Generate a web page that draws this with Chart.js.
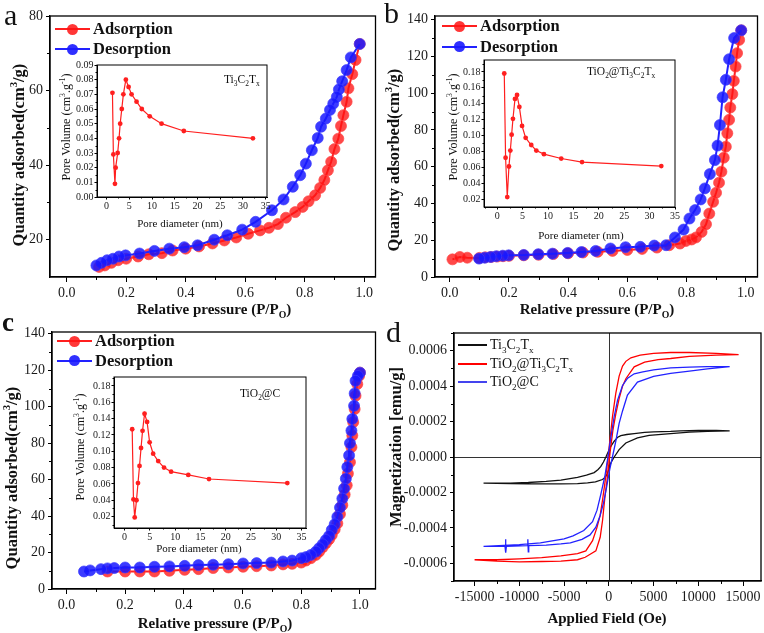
<!DOCTYPE html>
<html>
<head>
<meta charset="utf-8">
<script src="https://cdn.jsdelivr.net/npm/chart.js@4.4.1/dist/chart.umd.min.js"></script>
<style>
  body { margin: 0; background: #fff; }
  #fig { position: relative; width: 764px; height: 633px; overflow: hidden; font-family: "Liberation Serif", "Times New Roman", serif; color: #111; }
  canvas { position: absolute; }
  .t { position: absolute; white-space: nowrap; line-height: 1; }
  .c { transform: translate(-50%, -50%); }
  .r { transform: translate(-50%, -50%) rotate(-90deg); }
  .b { font-weight: bold; }
  sup, sub { font-size: 65%; line-height: 0; }
  .lgl { position: absolute; }
  .lgc { position: absolute; border-radius: 50%; }
</style>
</head>
<body>
<div id="fig">
  <canvas id="chA" width="382" height="319" style="left:0;top:0"></canvas>
  <canvas id="chB" width="382" height="319" style="left:382px;top:0"></canvas>
  <canvas id="chC" width="382" height="317" style="left:0;top:316px"></canvas>
  <canvas id="chD" width="382" height="317" style="left:382px;top:316px"></canvas>
  <canvas id="inA" width="220" height="171" style="left:55px;top:58px"></canvas>
  <canvas id="inB" width="243" height="189" style="left:440px;top:52px"></canvas>
  <canvas id="inC" width="244" height="185" style="left:70px;top:369px"></canvas>

  <div class="t" style="left:4px;top:0;font-size:30px">a</div>
  <div class="t" style="left:384px;top:-2px;font-size:30px">b</div>
  <div class="t b" style="left:2px;top:309px;font-size:27px">c</div>
  <div class="t" style="left:386px;top:317px;font-size:30px">d</div>

  <div class="t c b" style="left:214px;top:309px;font-size:15px">Relative pressure (P/P<sub>O</sub>)</div>
  <div class="t c b" style="left:597px;top:309px;font-size:15px">Relative pressure (P/P<sub>O</sub>)</div>
  <div class="t c b" style="left:215px;top:623px;font-size:15px">Relative pressure (P/P<sub>O</sub>)</div>
  <div class="t c b" style="left:607px;top:618px;font-size:15px">Applied Field (Oe)</div>
  <div class="t r b" style="left:19px;top:155px;font-size:16.5px">Quantity adsorbed(cm<sup>3</sup>/g)</div>
  <div class="t r b" style="left:394px;top:160px;font-size:16.5px">Quantity adsorbed(cm<sup>3</sup>/g)</div>
  <div class="t r b" style="left:12px;top:478px;font-size:16.5px">Quantity adsorbed(cm<sup>3</sup>/g)</div>
  <div class="t r b" style="left:396px;top:447px;font-size:16.5px">Magnetization [emu/g]</div>

  <div class="t c" style="left:180px;top:223px;font-size:11px">Pore diameter (nm)</div>
  <div class="t c" style="left:581px;top:235px;font-size:11px">Pore diameter (nm)</div>
  <div class="t c" style="left:199px;top:548px;font-size:11px">Pore diameter (nm)</div>
  <div class="t r" style="left:66px;top:127px;font-size:12px">Pore Volume (cm<sup>3</sup>.g<sup>-1</sup>)</div>
  <div class="t r" style="left:453px;top:127px;font-size:12px">Pore Volume (cm<sup>3</sup>.g<sup>-1</sup>)</div>
  <div class="t r" style="left:80px;top:447px;font-size:12px">Pore Volume (cm<sup>3</sup>.g<sup>-1</sup>)</div>

  <div class="t" style="left:224px;top:74px;font-size:11.5px">Ti<sub>3</sub>C<sub>2</sub>T<sub>x</sub></div>
  <div class="t" style="left:587px;top:66px;font-size:11.5px">TiO<sub>2</sub>@Ti<sub>3</sub>C<sub>2</sub>T<sub>x</sub></div>
  <div class="t" style="left:240px;top:388px;font-size:11.5px">TiO<sub>2</sub>@C</div>
</div>
<script>
// panel a, Ti3C2Tx isotherm
const pA_ads = [0.109, 0.128, 0.15, 0.173, 0.20, 0.24, 0.276, 0.32, 0.356, 0.40, 0.445, 0.49, 0.53, 0.57, 0.61, 0.65, 0.68, 0.71, 0.737, 0.768, 0.793, 0.813, 0.835, 0.852, 0.866, 0.878, 0.889, 0.90, 0.913, 0.922, 0.93, 0.941, 0.947, 0.96, 0.971, 0.985];
const qA_ads = [12.7, 13.1, 13.8, 14.5, 14.9, 15.5, 16.1, 16.4, 17.1, 17.6, 18.2, 19.0, 19.8, 20.6, 21.6, 22.5, 23.2, 24.2, 25.9, 27.4, 28.8, 30.3, 31.9, 33.9, 36.0, 38.6, 40.9, 44.3, 47.1, 50.5, 53.4, 57.0, 60.6, 64.4, 68.2, 72.5];
const pA_des = [0.985, 0.955, 0.941, 0.926, 0.915, 0.908, 0.896, 0.885, 0.871, 0.855, 0.844, 0.824, 0.804, 0.785, 0.76, 0.729, 0.69, 0.635, 0.59, 0.54, 0.496, 0.44, 0.395, 0.345, 0.295, 0.245, 0.198, 0.176, 0.156, 0.136, 0.117, 0.10];
const qA_des = [72.5, 68.9, 65.5, 62.5, 60.3, 58.3, 56.5, 54.8, 52.5, 50.3, 47.3, 44.0, 40.4, 37.3, 34.2, 30.8, 27.9, 24.8, 22.7, 21.2, 20.0, 18.5, 18.0, 17.6, 17.0, 16.3, 15.8, 15.5, 14.9, 14.5, 13.8, 13.1];

// panel b, TiO2@Ti3C2Tx isotherm
const pB_ads = [0.009, 0.034, 0.059, 0.10, 0.12, 0.14, 0.16, 0.18, 0.20, 0.25, 0.30, 0.35, 0.40, 0.45, 0.50, 0.55, 0.60, 0.65, 0.70, 0.742, 0.778, 0.798, 0.817, 0.832, 0.851, 0.866, 0.877, 0.89, 0.90, 0.91, 0.918, 0.926, 0.933, 0.938, 0.944, 0.948, 0.955, 0.96, 0.966, 0.971, 0.978, 0.985];
const qB_ads = [9.6, 10.9, 10.5, 10.4, 10.7, 10.9, 11.1, 11.3, 11.5, 11.8, 12.1, 12.5, 12.9, 13.3, 13.7, 14.2, 14.7, 15.3, 16.0, 17.3, 18.2, 19.6, 20.4, 21.5, 24.5, 28.7, 34.5, 40.9, 45.8, 51.3, 57.3, 64.9, 70.9, 78.2, 85.5, 92.2, 99.5, 106.7, 114.5, 121.8, 129.0, 134.2];
const pB_des = [0.985, 0.961, 0.944, 0.933, 0.922, 0.913, 0.905, 0.896, 0.879, 0.862, 0.848, 0.829, 0.81, 0.79, 0.761, 0.731, 0.691, 0.644, 0.594, 0.543, 0.493, 0.445, 0.398, 0.347, 0.299, 0.25, 0.199, 0.179, 0.157, 0.138, 0.118, 0.099];
const qB_des = [134.2, 130.0, 118.5, 107.3, 97.8, 82.7, 71.5, 63.6, 56.0, 48.2, 42.2, 36.4, 31.8, 25.8, 21.5, 17.3, 17.1, 16.4, 16.2, 15.5, 14.2, 13.6, 13.1, 12.7, 12.4, 12.0, 11.8, 11.6, 11.3, 10.9, 10.5, 10.0];

// panel c, TiO2@C isotherm
const pC_ads = [0.14, 0.20, 0.25, 0.30, 0.351, 0.403, 0.45, 0.50, 0.552, 0.602, 0.648, 0.698, 0.738, 0.769, 0.80, 0.816, 0.833, 0.85, 0.861, 0.873, 0.884, 0.895, 0.904, 0.914, 0.923, 0.932, 0.94, 0.948, 0.955, 0.959, 0.966, 0.971, 0.974, 0.977, 0.982, 0.985, 0.991, 0.997, 1.0];
const qC_ads = [9.6, 9.6, 9.6, 9.6, 10.0, 10.5, 10.9, 11.5, 11.8, 12.2, 12.5, 12.9, 13.5, 13.8, 14.5, 15.6, 16.9, 18.7, 20.5, 22.9, 25.1, 27.3, 29.6, 32.7, 36.0, 41.1, 46.0, 51.8, 56.9, 63.3, 69.6, 77.8, 84.2, 91.5, 98.7, 106.0, 112.4, 116.9, 118.7];
const pC_des = [1.0, 0.993, 0.985, 0.982, 0.98, 0.974, 0.971, 0.966, 0.963, 0.957, 0.952, 0.946, 0.94, 0.932, 0.923, 0.914, 0.904, 0.895, 0.884, 0.873, 0.861, 0.85, 0.833, 0.816, 0.80, 0.769, 0.738, 0.698, 0.648, 0.602, 0.552, 0.50, 0.45, 0.403, 0.351, 0.30, 0.25, 0.20, 0.163, 0.14, 0.118, 0.081, 0.06];
const qC_des = [118.7, 116.9, 114.2, 107.3, 100.5, 93.3, 86.9, 80.0, 73.3, 66.9, 60.5, 55.1, 49.6, 44.7, 39.6, 35.5, 32.4, 29.1, 26.9, 24.5, 22.4, 20.5, 18.7, 17.5, 16.9, 15.6, 15.1, 14.5, 14.2, 14.0, 13.6, 13.3, 13.1, 12.7, 12.4, 12.2, 11.8, 11.8, 11.5, 11.3, 10.9, 10.2, 9.6];

// pore size insets
const dA = [1.3, 1.5, 1.85, 2.0, 2.45, 2.75, 3.0, 3.35, 3.7, 4.25, 4.85, 5.5, 6.6, 7.75, 9.5, 12.1, 17.0, 32.2];
const vA = [0.071, 0.029, 0.009, 0.020, 0.030, 0.040, 0.050, 0.060, 0.070, 0.080, 0.075, 0.070, 0.065, 0.060, 0.055, 0.050, 0.045, 0.040];
const dB = [1.39, 1.65, 1.98, 2.31, 2.58, 2.84, 3.1, 3.5, 3.9, 4.36, 4.89, 5.6, 6.7, 7.7, 9.2, 12.6, 16.7, 32.3];
const vB = [0.178, 0.072, 0.0225, 0.061, 0.081, 0.101, 0.121, 0.146, 0.151, 0.136, 0.112, 0.097, 0.088, 0.081, 0.0765, 0.071, 0.0665, 0.0615];
const dC = [1.5, 1.75, 2.0, 2.35, 2.65, 2.95, 3.25, 3.55, 3.95, 4.45, 4.95, 5.65, 6.65, 7.8, 9.2, 12.6, 16.7, 32.2];
const vC = [0.127, 0.041, 0.019, 0.040, 0.061, 0.082, 0.104, 0.125, 0.146, 0.136, 0.111, 0.097, 0.088, 0.080, 0.075, 0.071, 0.066, 0.061];

// panel d, M-H loops: descending branch then ascending branch
const hK_desc = [13500, 12000, 10000, 8000, 6900, 5000, 4000, 2830, 2000, 1340, 1000, 600, 220, -40, -330, -600, -890, -1200, -1640, -2500, -3500, -5360, -7000, -9000, -11000, -14000];
const mK_desc = [1.48e-4, 1.50e-4, 1.50e-4, 1.48e-4, 1.45e-4, 1.42e-4, 1.39e-4, 1.32e-4, 1.27e-4, 1.21e-4, 1.12e-4, 0.89e-4, 0.60e-4, 0.32e-4, 0, -0.28e-4, -0.53e-4, -0.70e-4, -0.88e-4, -1.02e-4, -1.15e-4, -1.30e-4, -1.38e-4, -1.44e-4, -1.47e-4, -1.47e-4];
const hK_asc = [-14000, -11000, -9000, -7000, -5360, -3500, -2380, -1500, -710, -400, -150, 220, 600, 1150, 1900, 3200, 4500, 6900, 9000, 11000, 13500];
const mK_asc = [-1.47e-4, -1.50e-4, -1.51e-4, -1.52e-4, -1.52e-4, -1.50e-4, -1.46e-4, -1.40e-4, -1.27e-4, -1.15e-4, -0.92e-4, -0.34e-4, 0, 0.42e-4, 0.79e-4, 1.08e-4, 1.22e-4, 1.32e-4, 1.40e-4, 1.45e-4, 1.48e-4];

const hR_desc = [14500, 12000, 9000, 6900, 5000, 3500, 2460, 1900, 1530, 1150, 780, 410, 150, -150, -450, -710, -970, -1340, -1820, -2570, -3500, -5360, -7500, -10000, -12500, -15000];
const mR_desc = [5.78e-4, 5.85e-4, 5.90e-4, 5.90e-4, 5.85e-4, 5.75e-4, 5.60e-4, 5.40e-4, 5.13e-4, 4.57e-4, 3.60e-4, 2.30e-4, 1.10e-4, -0.30e-4, -1.50e-4, -2.44e-4, -3.30e-4, -4.00e-4, -4.72e-4, -5.30e-4, -5.45e-4, -5.58e-4, -5.68e-4, -5.75e-4, -5.80e-4, -5.80e-4];
const hR_asc = [-15000, -12500, -10000, -7500, -5360, -3500, -2640, -1450, -968, -707, -447, -150, 150, 450, 780, 1150, 1530, 1900, 2830, 4000, 5500, 6900, 9000, 12000, 14500];
const mR_asc = [-5.80e-4, -5.88e-4, -5.92e-4, -5.90e-4, -5.88e-4, -5.80e-4, -5.66e-4, -5.30e-4, -4.53e-4, -3.60e-4, -2.30e-4, -1.10e-4, 0.30e-4, 1.50e-4, 2.44e-4, 3.30e-4, 4.00e-4, 4.42e-4, 5.09e-4, 5.35e-4, 5.50e-4, 5.56e-4, 5.68e-4, 5.75e-4, 5.78e-4];

const hU_desc = [13500, 11000, 9000, 6900, 5000, 3800, 2830, 2100, 1530, 970, 600, 220, -100, -450, -890, -1320, -1820, -2800, -4000, -5000, -7650, -10000, -14000];
const mU_desc = [5.10e-4, 5.10e-4, 5.07e-4, 5.03e-4, 4.92e-4, 4.80e-4, 4.70e-4, 4.45e-4, 4.04e-4, 3.20e-4, 2.30e-4, 1.10e-4, 0, -1.10e-4, -2.10e-4, -3.00e-4, -3.65e-4, -4.15e-4, -4.45e-4, -4.62e-4, -4.85e-4, -4.95e-4, -5.05e-4];
const hU_asc = [-14000, -11600, -11550, -11500, -11450, -9100, -9050, -9000, -8950, -7000, -5360, -4300, -3000, -2100, -1450, -970, -600, -250, 100, 400, 780, 1150, 1530, 2080, 3200, 5000, 6900, 9000, 11000, 13500];
const mU_asc = [-5.05e-4, -5.05e-4, -4.65e-4, -5.40e-4, -5.05e-4, -5.00e-4, -4.65e-4, -5.35e-4, -5.00e-4, -4.98e-4, -4.91e-4, -4.85e-4, -4.65e-4, -4.40e-4, -3.96e-4, -3.30e-4, -2.60e-4, -1.70e-4, -0.70e-4, 0, 0.90e-4, 1.90e-4, 2.60e-4, 3.50e-4, 4.23e-4, 4.55e-4, 4.72e-4, 4.85e-4, 4.98e-4, 5.10e-4];

// tick labels
const xTicksIso = [0, 0.2, 0.4, 0.6, 0.8, 1.0];
const yTicksA = [20, 40, 60, 80];
const yTicksBC = [0, 20, 40, 60, 80, 100, 120, 140];
const xTicksPore = [0, 5, 10, 15, 20, 25, 30, 35];
const yTicksPoreA = [0, 0.01, 0.02, 0.03, 0.04, 0.05, 0.06, 0.07, 0.08, 0.09];
const yTicksPoreBC = [0.02, 0.04, 0.06, 0.08, 0.10, 0.12, 0.14, 0.16, 0.18];
const xTicksD = [-15000, -10000, -5000, 0, 5000, 10000, 15000];
const yTicksD = [-0.0006, -0.0004, -0.0002, 0, 0.0002, 0.0004, 0.0006];

const SERIF = '"Liberation Serif", "Times New Roman", serif';
const RED = '#ff1f1f';
const BLUE = '#2222ff';

function pts(xs, ys) {
    return xs.map((x, i) => ({ x, y: ys[i] }));
}

function minors(ticks, min, max) {
    const step = ticks[1] - ticks[0];
    const out = [];
    for (let v = ticks[0] - step / 2; v < max; v += step) {
        if (v > min) out.push(v);
    }
    return out;
}

const framePlugin = {
    id: 'frame',
    beforeDatasetsDraw(chart, args, opts) {
        if (!opts.zero) return;
        const { ctx, chartArea: a, scales: { x, y } } = chart;
        const px = Math.round(x.getPixelForValue(0)) + 0.5;
        const py = Math.round(y.getPixelForValue(0)) + 0.5;
        ctx.save();
        ctx.strokeStyle = '#333';
        ctx.lineWidth = 1;
        ctx.beginPath();
        ctx.moveTo(px, a.top); ctx.lineTo(px, a.bottom);
        ctx.moveTo(a.left, py); ctx.lineTo(a.right, py);
        ctx.stroke();
        ctx.restore();
    },
    afterDraw(chart, args, opts) {
        const { ctx, chartArea: a, scales: { x, y } } = chart;
        ctx.save();
        ctx.strokeStyle = '#000';
        ctx.lineWidth = opts.lw;
        ctx.strokeRect(a.left, a.top, a.right - a.left, a.bottom - a.top);
        ctx.lineWidth = 1;
        ctx.beginPath();
        minors(opts.xt, x.min, x.max).forEach(v => {
            const px = Math.round(x.getPixelForValue(v)) + 0.5;
            ctx.moveTo(px, a.bottom); ctx.lineTo(px, a.bottom + opts.ml);
        });
        minors(opts.yt, y.min, y.max).forEach(v => {
            const py = Math.round(y.getPixelForValue(v)) + 0.5;
            ctx.moveTo(a.left, py); ctx.lineTo(a.left - opts.ml, py);
        });
        ctx.stroke();
        ctx.restore();
    }
};

function axis(min, max, ticks, fmt, o) {
    return {
        type: 'linear',
        min,
        max,
        afterBuildTicks: s => { s.ticks = ticks.map(v => ({ value: v })); },
        afterFit: s => {
            if (o.w) s.width = o.w;
            if (o.h) s.height = o.h;
        },
        border: { display: true, color: '#000', width: o.lw },
        grid: { drawOnChartArea: false, drawTicks: true, tickLength: o.tl, tickColor: '#000', tickWidth: 1 },
        ticks: {
            autoSkip: false,
            maxRotation: 0,
            padding: o.pad,
            color: '#1a1a1a',
            font: { family: SERIF, size: o.fs },
            callback: fmt
        },
        title: { display: false }
    };
}

function makeChart(id, datasets, xs, ys, padding, frame) {
    return new Chart(document.getElementById(id), {
        type: 'scatter',
        data: { datasets },
        options: {
            responsive: false,
            animation: false,
            devicePixelRatio: 1,
            events: [],
            layout: { padding },
            plugins: { legend: { display: false }, tooltip: { enabled: false }, frame },
            scales: { x: xs, y: ys }
        },
        plugins: [framePlugin]
    });
}

function isoSets(pa, qa, pd, qd) {
    return [
        { data: pts(pa, qa), showLine: true, borderColor: RED, borderWidth: 2, pointRadius: 5.5, pointBackgroundColor: 'rgba(255,20,20,0.78)', pointBorderColor: 'rgba(255,70,70,0.7)', pointBorderWidth: 1, order: 1 },
        { data: pts(pd, qd), showLine: true, borderColor: BLUE, borderWidth: 2, pointRadius: 5.5, pointBackgroundColor: 'rgba(25,25,255,0.85)', pointBorderColor: 'rgba(60,60,255,0.7)', pointBorderWidth: 1, order: 0 }
    ];
}

function poreSet(d, v) {
    return [{ data: pts(d, v), showLine: true, borderColor: RED, borderWidth: 1.2, pointRadius: 2.4, pointBackgroundColor: RED, pointBorderWidth: 0 }];
}

function loopSet(hd, md, ha, ma, color) {
    return { data: pts(hd.concat(ha), md.concat(ma)), showLine: true, borderColor: color, borderWidth: 1.3, pointRadius: 0 };
}

const fx1 = v => v.toFixed(1);
const fx0 = v => String(v);
const fx2 = v => v.toFixed(2);
const mainX = (h) => ({ h, tl: 5, pad: 3, fs: 14, lw: 1.3 });
const mainY = (w) => ({ w, tl: 4, pad: 3, fs: 14, lw: 1.3 });
const poreX = (h) => ({ h, tl: 2.5, pad: 1, fs: 10, lw: 1 });
const poreY = (w) => ({ w, tl: 2.5, pad: 1, fs: 10, lw: 1 });

makeChart('chA', isoSets(pA_ads, qA_ads, pA_des, qA_des),
    axis(-0.056, 1.038, xTicksIso, fx1, mainX(42)),
    axis(10, 80, yTicksA, fx0, mainY(50)),
    { top: 16, right: 4, left: 0, bottom: 0 },
    { lw: 1.3, ml: 3, xt: xTicksIso, yt: yTicksA });

makeChart('chB', isoSets(pB_ads, qB_ads, pB_des, qB_des),
    axis(-0.05, 1.04, xTicksIso, fx1, mainX(42)),
    axis(0, 142, yTicksBC, fx0, mainY(53)),
    { top: 16, right: 4, left: 0, bottom: 0 },
    { lw: 1.3, ml: 3, xt: xTicksIso, yt: yTicksBC });

makeChart('chC', isoSets(pC_ads, qC_ads, pC_des, qC_des),
    axis(-0.049, 1.053, xTicksIso, fx1, mainX(44)),
    axis(0, 141, yTicksBC, fx0, mainY(52)),
    { top: 16, right: 4, left: 0, bottom: 0 },
    { lw: 1.3, ml: 3, xt: xTicksIso, yt: yTicksBC });

makeChart('chD', [
        loopSet(hU_desc, mU_desc, hU_asc, mU_asc, BLUE),
        loopSet(hR_desc, mR_desc, hR_asc, mR_asc, '#ff0000'),
        loopSet(hK_desc, mK_desc, hK_asc, mK_asc, '#111111')
    ],
    axis(-17300, 17000, xTicksD, fx0, mainX(52)),
    axis(-0.0007, 0.0007, yTicksD, v => v.toFixed(4), mainY(72)),
    { top: 17, right: 3, left: 0, bottom: 0 },
    { lw: 1.3, ml: 3, xt: xTicksD, yt: yTicksD, zero: true });

makeChart('inA', poreSet(dA, vA),
    axis(-2.1, 35.3, xTicksPore, fx0, poreX(32)),
    axis(0, 0.09, yTicksPoreA, fx2, poreY(42)),
    { top: 7, right: 8, left: 0, bottom: 0 },
    { lw: 1, ml: 1.5, xt: xTicksPore, yt: yTicksPoreA });

makeChart('inB', poreSet(dB, vB),
    axis(-2.6, 35, xTicksPore, fx0, poreX(34)),
    axis(0.01, 0.195, yTicksPoreBC, fx2, poreY(44)),
    { top: 8, right: 8, left: 0, bottom: 0 },
    { lw: 1, ml: 1.5, xt: xTicksPore, yt: yTicksPoreBC });

makeChart('inC', poreSet(dC, vC),
    axis(-2.1, 35.9, xTicksPore, fx0, poreX(26)),
    axis(0.006, 0.191, yTicksPoreBC, fx2, poreY(44)),
    { top: 8, right: 8, left: 0, bottom: 0 },
    { lw: 1, ml: 1.5, xt: xTicksPore, yt: yTicksPoreBC });

// legends drawn as html over the canvases
const fig = document.getElementById('fig');
function legendRow(x0, yc, len, color, dot, html, size, bold) {
    const line = document.createElement('div');
    line.className = 'lgl';
    line.style.cssText = `left:${x0}px;top:${yc - 1}px;width:${len}px;height:2px;background:${color}`;
    fig.appendChild(line);
    if (dot) {
        const c = document.createElement('div');
        c.className = 'lgc';
        c.style.cssText = `left:${x0 + len / 2 - 5.5}px;top:${yc - 5.5}px;width:11px;height:11px;background:${dot}`;
        fig.appendChild(c);
    }
    const t = document.createElement('div');
    t.className = bold ? 't b' : 't';
    t.style.left = (x0 + len + 3) + 'px';
    t.style.top = yc + 'px';
    t.style.fontSize = size + 'px';
    t.style.transform = 'translateY(-50%)';
    t.innerHTML = html;
    fig.appendChild(t);
}

[[55, 29, 49], [442, 26, 46.5], [57, 341, 360.5]].forEach(([x0, y1, y2]) => {
    legendRow(x0, y1, 35, RED, 'rgba(255,20,20,0.85)', 'Adsorption', 16.5, true);
    legendRow(x0, y2, 35, BLUE, 'rgba(25,25,255,0.9)', 'Desorption', 16.5, true);
});
legendRow(458, 345, 29, '#111', null, 'Ti<sub>3</sub>C<sub>2</sub>T<sub>x</sub>', 14, false);
legendRow(458, 363.5, 29, '#ff0000', null, 'TiO<sub>2</sub>@Ti<sub>3</sub>C<sub>2</sub>T<sub>x</sub>', 14, false);
legendRow(458, 382, 29, '#4444ee', null, 'TiO<sub>2</sub>@C', 14, false);
</script>
</body>
</html>
